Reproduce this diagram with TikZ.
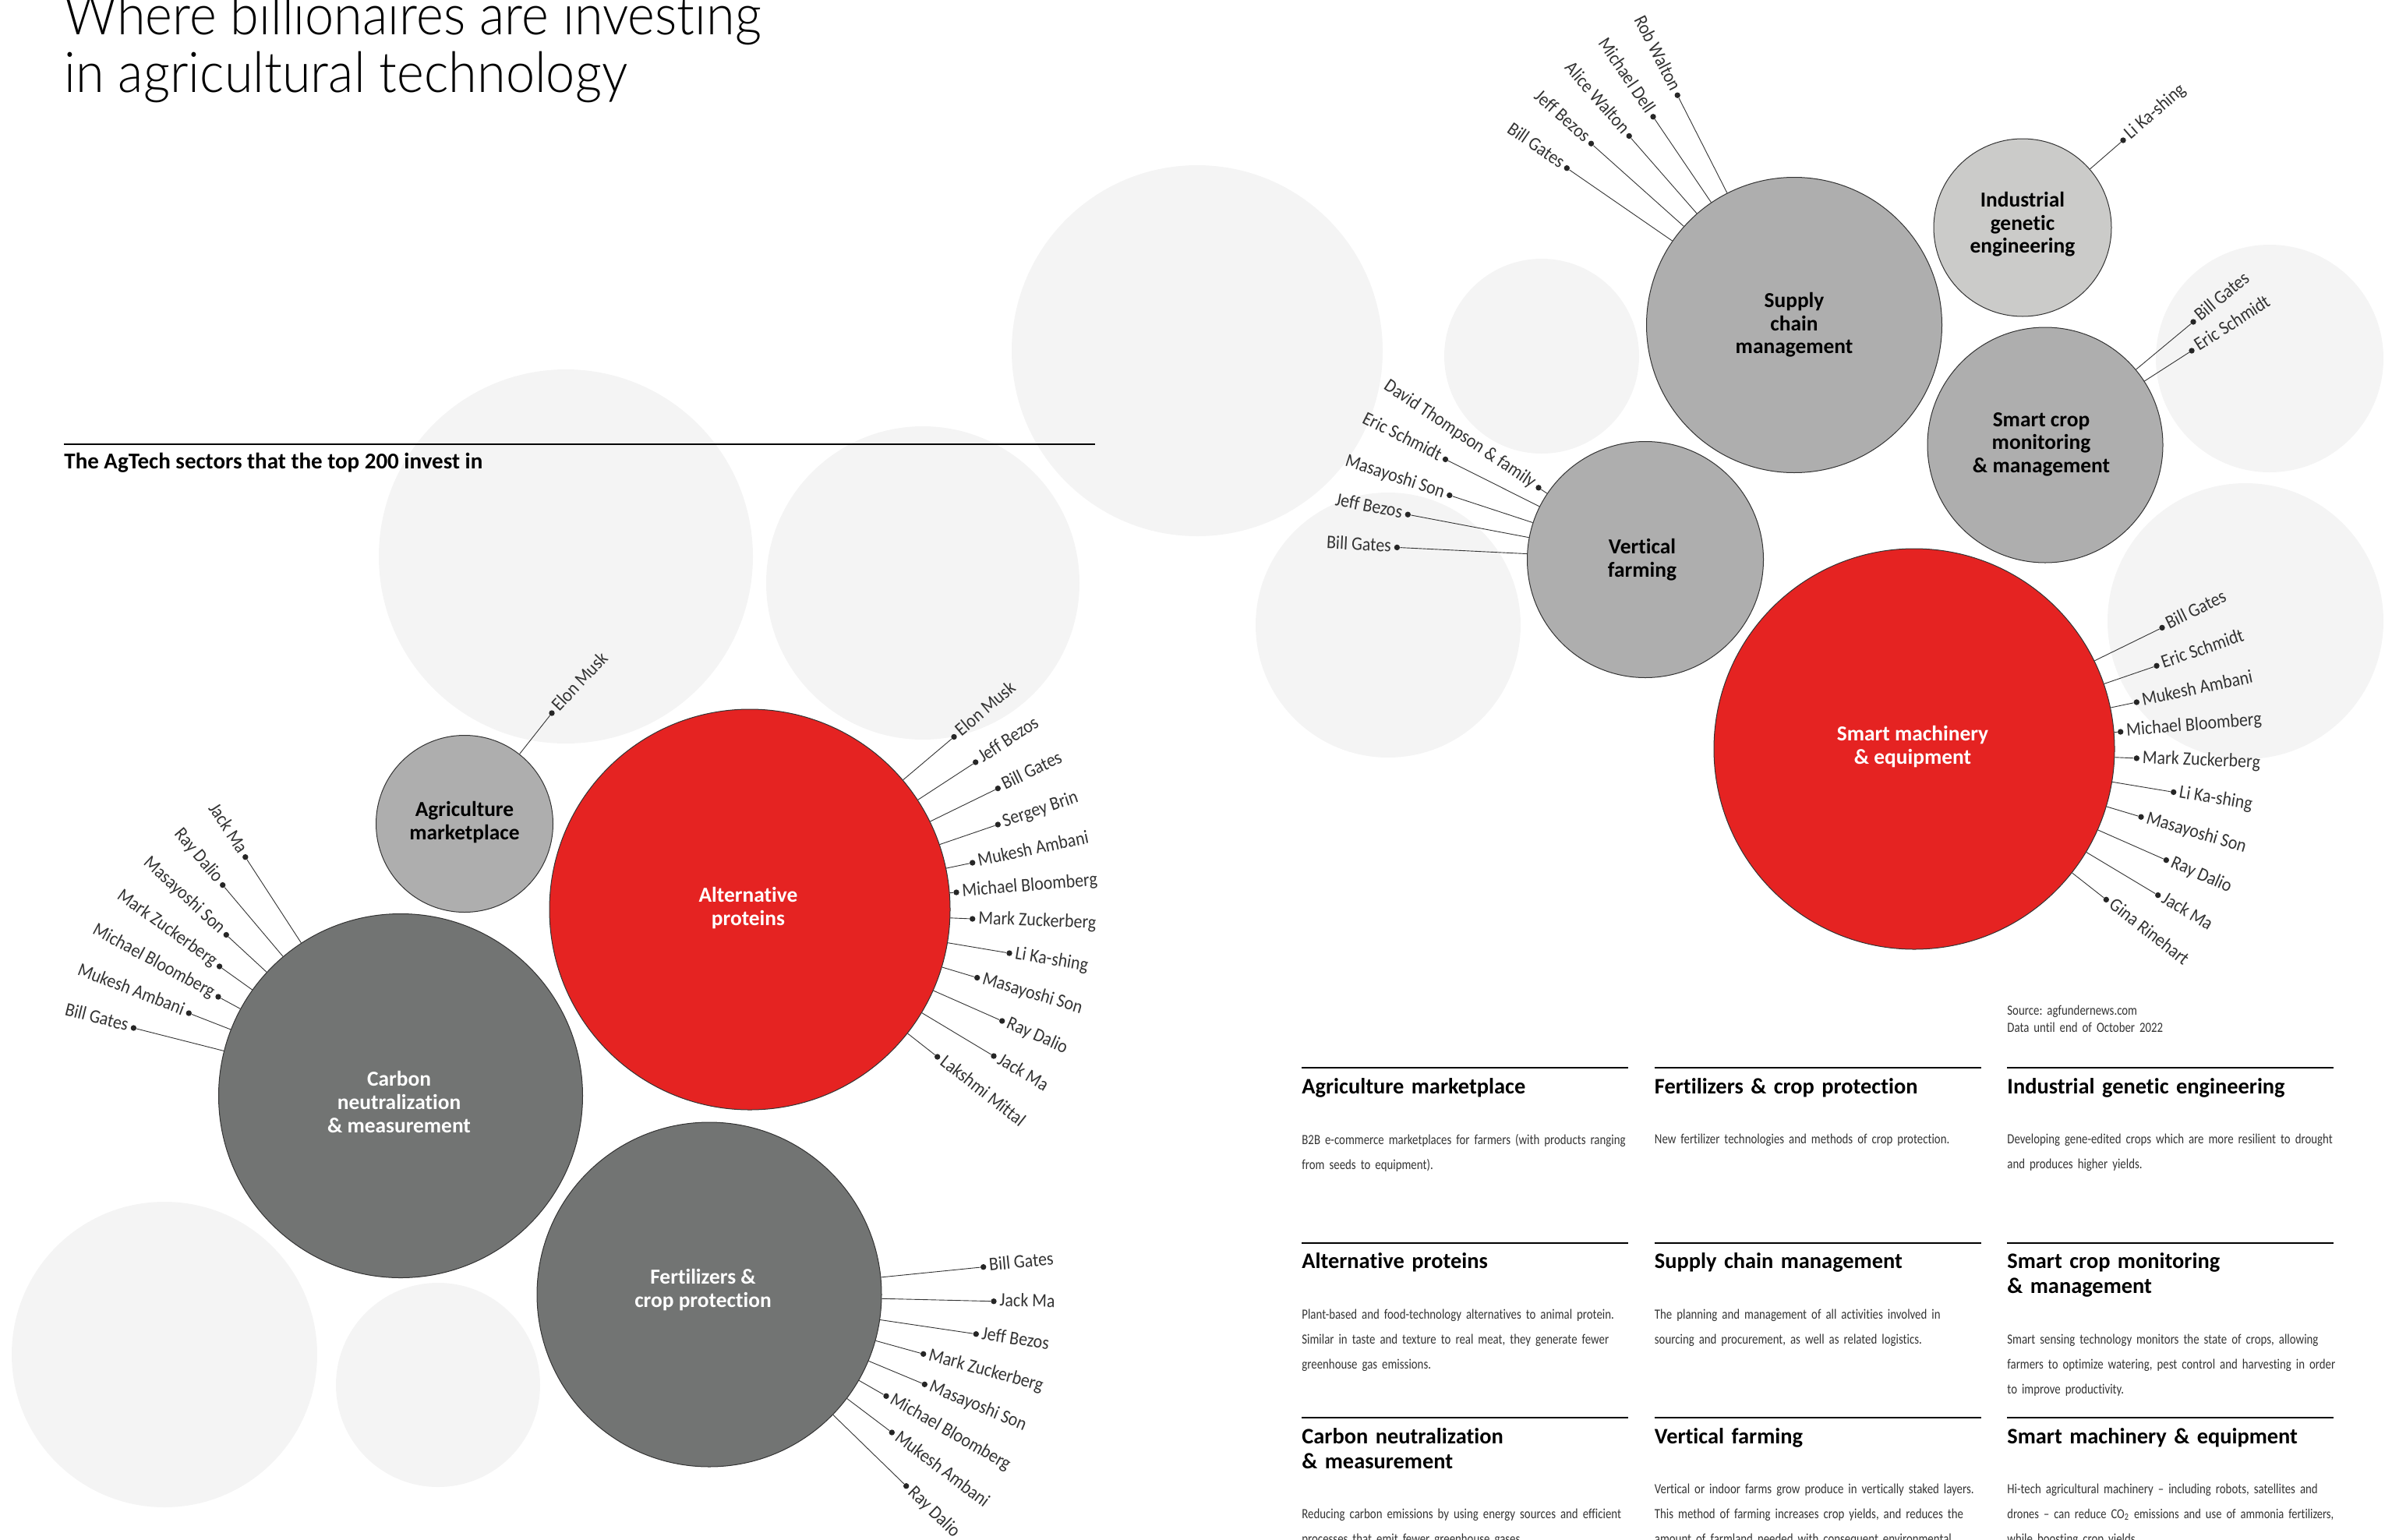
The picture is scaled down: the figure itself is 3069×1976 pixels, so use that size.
\documentclass[tikz,border=0pt]{standalone}
\usepackage{fontspec}
\defaultfontfeatures{Ligatures=NoCommon}
\setmainfont{Carlito}
\newfontfamily\namef[FakeStretch=0.9,Ligatures=NoCommon]{Carlito}
\newfontfamily\bodyf[FakeStretch=0.825,Ligatures=NoCommon]{Carlito}
\newfontfamily\titlef[FakeStretch=0.925,Ligatures=NoCommon]{Lato Light}
\definecolor{redc}{HTML}{E52322}
\definecolor{darkc}{HTML}{727473}
\definecolor{midc}{HTML}{AEAEAE}
\definecolor{palec}{HTML}{CBCBC9}
\definecolor{ghostc}{HTML}{F4F4F4}
\definecolor{inkc}{HTML}{333333}
\tikzset{
  ghost/.style={fill=ghostc,draw=none,circle,inner sep=0pt},
  hubbase/.style={circle,draw=inkc,line width=0.5pt,inner sep=0pt},
  hubtext/.style={inner sep=0pt,align=center,font=\fontsize{13.7}{14.8}\selectfont\bfseries},
  hubred/.style={hubbase,fill=redc},
  hubdark/.style={hubbase,fill=darkc},
  hubmid/.style={hubbase,fill=midc},
  hubpale/.style={hubbase,fill=palec},
  hubred-t/.style={hubtext,text=white},
  hubdark-t/.style={hubtext,text=white},
  hubmid-t/.style={hubtext,text=black},
  hubpale-t/.style={hubtext,text=black},
  dotn/.style={circle,fill=black!85,draw=none,minimum size=3.7pt,inner sep=0pt},
  conn/.style={draw=inkc,line width=0.45pt},
  namelab/.style={font=\namef\fontsize{12.2}{12}\selectfont,text=inkc,inner ysep=0pt,inner xsep=3.6pt,text height=8pt,text depth=2pt},
  rulel/.style={draw=black,line width=1pt},
  headl/.style={anchor=north west,inner sep=0pt,text width=209.5pt,align=left,font=\fontsize{14.2}{16}\selectfont\bfseries},
  bodyl/.style={anchor=north west,inner sep=0pt,text width=209.5pt,align=left,text=inkc,font=\frenchspacing\bodyf\fontsize{9}{16}\selectfont},
}
\newcommand{\hub}[8]{\def\hn{#1}\def\hx{#2}\def\hy{#3}%
  \node[#5,minimum size=#4 pt] (#1) at (#2,#3) {};
  \node[#5-t] (#1-t) at (#2+#6,#3+#7) {#8};}
\newcommand{\inv}[5][0]{%
  \pgfmathsetmacro\rotv{atan((\hy-#4)/(#3-\hx))+#1}%
  \ifdim #3pt>\hx pt\def\anc{west}\else\def\anc{east}\fi
  \node[dotn] (\hn-#2) at (#3,#4) {};
  \draw[conn] (\hn) -- (\hn-#2);
  \node[namelab,rotate=\rotv,anchor=\anc] (\hn-#2-l) at (\hn-#2) {#5};}
\newcommand{\jline}[1]{\hbox to 209.5pt{\rule{0pt}{6pt}#1}\par}
\newcommand{\lline}[1]{\hbox{\rule{0pt}{6pt}#1}\par}
\newcommand{\card}[5]{%
  \draw[rulel] (#2,#3) -- ++(419,0);
  \node[headl] (#1-h) at (#2,#3+13) {\rule{0pt}{10pt}#4};
  \node[bodyl] (#1-b) at (#2,#3+#5) }
\begin{document}
\begin{tikzpicture}[x=0.5pt,y=-0.5pt]
\useasboundingbox (0,0) rectangle (3069,1976);
% pale background discs
\node[ghost,minimum size=240pt] (g1) at (726,714) {};
\node[ghost,minimum size=201pt] (g2) at (1184,748) {};
\node[ghost,minimum size=238pt] (g3) at (1536,450) {};
\node[ghost,minimum size=125pt] (g4) at (1978,457) {};
\node[ghost,minimum size=170pt] (g5) at (1781,802) {};
\node[ghost,minimum size=146pt] (g6) at (2912,460) {};
\node[ghost,minimum size=177pt] (g7) at (2881,797) {};
\node[ghost,minimum size=196pt] (g8) at (211,1738) {};
\node[ghost,minimum size=131pt] (g9) at (562,1777) {};
% title
\node[anchor=base west,inner sep=0pt,font=\titlef\fontsize{36}{36}\selectfont] (t1) at (82,44) {Where billionaires are investing};
\node[anchor=base west,inner sep=0pt,font=\titlef\fontsize{36}{36}\selectfont] (t2) at (82,118) {in agricultural technology};
\draw[rulel] (82,570) -- (1405,570);
\node[anchor=base west,inner sep=0pt,font=\fontsize{14.5}{16}\selectfont\bfseries] (sub) at (82,601) {The AgTech sectors that the top 200 invest in};
% hubs
\hub{agri}{596}{1057}{113.5}{hubmid}{0}{-2}{Agriculture\\marketplace}
\inv[-5]{a1}{708}{915}{Elon Musk}
\hub{alt}{962}{1167}{257}{hubred}{-2}{-2}{Alternative\\proteins}
\inv{a1}{1224}{945.5}{Elon Musk}
\inv{a2}{1251.7}{978}{Jeff Bezos}
\inv{a3}{1280.3}{1011.6}{Bill Gates}
\inv{a4}{1280.3}{1058}{Sergey Brin}
\inv{a5}{1247.7}{1107}{Mukesh Ambani}
\inv{a6}{1227}{1145}{Michael Bloomberg}
\inv{a7}{1247.7}{1179}{Mark Zuckerberg}
\inv{a8}{1295}{1223}{Li Ka-shing}
\inv{a9}{1253.7}{1254.5}{Masayoshi Son}
\inv{a10}{1285.7}{1310}{Ray Dalio}
\inv{a11}{1275}{1355}{Jack Ma}
\inv{a12}{1202.7}{1356}{Lakshmi Mittal}
\hub{carbon}{514}{1406}{233.5}{hubdark}{-2}{8}{Carbon\\neutralization\\\& measurement}
\inv{a1}{314.8}{1099.7}{Jack Ma}
\inv{a2}{285.7}{1135.6}{Ray Dalio}
\inv{a3}{290.3}{1199.5}{Masayoshi Son}
\inv{a4}{281.6}{1240}{Mark Zuckerberg}
\inv{a5}{280}{1279}{Michael Bloomberg}
\inv{a6}{242.3}{1300}{Mukesh Ambani}
\inv{a7}{171.4}{1319}{Bill Gates}
\hub{fert}{910}{1661}{221}{hubdark}{-8}{-6}{Fertilizers \&\\crop protection}
\inv{a1}{1261.7}{1625.7}{Bill Gates}
\inv{a2}{1275}{1669.7}{Jack Ma}
\inv{a3}{1252.3}{1711.7}{Jeff Bezos}
\inv{a4}{1184.7}{1737.3}{Mark Zuckerberg}
\inv{a5}{1186.3}{1776.3}{Masayoshi Son}
\inv{a6}{1137}{1791.3}{Michael Bloomberg}
\inv{a7}{1144.3}{1838}{Mukesh Ambani}
\inv{a8}{1162.7}{1906.7}{Ray Dalio}
\hub{supply}{2302}{417}{189.5}{hubmid}{0}{0}{Supply\\chain\\management}
\inv{a1}{2010.3}{215.7}{Bill Gates}
\inv{a2}{2041.5}{184.2}{Jeff Bezos}
\inv{a3}{2090.2}{174.5}{Alice Walton}
\inv{a4}{2121}{149.8}{Michael Dell}
\inv{a5}{2152.2}{122.2}{Rob Walton}
\hub{indus}{2595}{292}{114}{hubpale}{0}{-4}{Industrial\\genetic\\engineering}
\inv{a1}{2724}{180}{Li Ka-shing}
\hub{crop}{2624}{571}{151}{hubmid}{-5}{-1}{Smart crop\\monitoring\\\& management}
\inv{a1}{2814}{413}{Bill Gates}
\inv{a2}{2812}{450}{Eric Schmidt}
\hub{vert}{2111}{718}{151.5}{hubmid}{-4}{0}{Vertical\\farming}
\inv{a1}{1974}{625.8}{David Thompson \& family}
\inv{a2}{1854.5}{589.4}{Eric Schmidt}
\inv{a3}{1859.8}{635.5}{Masayoshi Son}
\inv{a4}{1806.3}{660.2}{Jeff Bezos}
\inv{a5}{1792.4}{702.4}{Bill Gates}
\hub{mach}{2456}{961}{257}{hubred}{-2}{-3}{Smart machinery\\\& equipment}
\inv{a1}{2774}{805.4}{Bill Gates}
\inv{a2}{2767}{854.3}{Eric Schmidt}
\inv{a3}{2741.3}{901}{Mukesh Ambani}
\inv{a4}{2720.7}{939}{Michael Bloomberg}
\inv{a5}{2741.3}{972.9}{Mark Zuckerberg}
\inv{a6}{2788.7}{1016.4}{Li Ka-shing}
\inv{a7}{2747}{1048.2}{Masayoshi Son}
\inv{a8}{2779.3}{1103.6}{Ray Dalio}
\inv{a9}{2768.7}{1148.6}{Jack Ma}
\inv{a10}{2702.3}{1154.3}{Gina Rinehart}
% source
\node[bodyl] (src) at (2575,1290) {\lline{Source: agfundernews.com}\vskip-5pt\lline{Data until end of October 2022}};
% cards
\card{c1}{1670}{1370}{Agriculture marketplace}{85}{\jline{B2B e-commerce marketplaces for farmers (with products ranging}\lline{from seeds to equipment).}};
\card{c2}{2122.5}{1370}{Fertilizers \& crop protection}{85}{\lline{New fertilizer technologies and methods of crop protection.}};
\card{c3}{2575}{1370}{Industrial genetic engineering}{85}{\jline{Developing gene-edited crops which are more resilient to drought}\lline{and produces higher yields.}};
\card{c4}{1670}{1594.5}{Alternative proteins}{85}{\jline{Plant-based and food-technology alternatives to animal protein.}\jline{Similar in taste and texture to real meat, they generate fewer}\lline{greenhouse gas emissions.}};
\card{c5}{2122.5}{1594.5}{Supply chain management}{85}{\jline{The planning and management of all activities involved in}\lline{sourcing and procurement, as well as related logistics.}};
\card{c6}{2575}{1594.5}{Smart crop monitoring\\\& management}{117}{\jline{Smart sensing technology monitors the state of crops, allowing}\jline{farmers to optimize watering, pest control and harvesting in order}\lline{to improve productivity.}};
\card{c7}{1670}{1819}{Carbon neutralization\\\& measurement}{117}{\jline{Reducing carbon emissions by using energy sources and efficient}\lline{processes that emit fewer greenhouse gases.}};
\card{c8}{2122.5}{1819}{Vertical farming}{85}{\jline{Vertical or indoor farms grow produce in vertically staked layers.}\jline{This method of farming increases crop yields, and reduces the}\jline{amount of farmland needed with consequent environmental}};
\card{c9}{2575}{1819}{Smart machinery \& equipment}{85}{\jline{Hi-tech agricultural machinery – including robots, satellites and}\jline{\fontsize{8.8}{16}\selectfont drones – can reduce CO\textsubscript{2} emissions and use of ammonia fertilizers,}\lline{while boosting crop yields.}};
\end{tikzpicture}
\end{document}
